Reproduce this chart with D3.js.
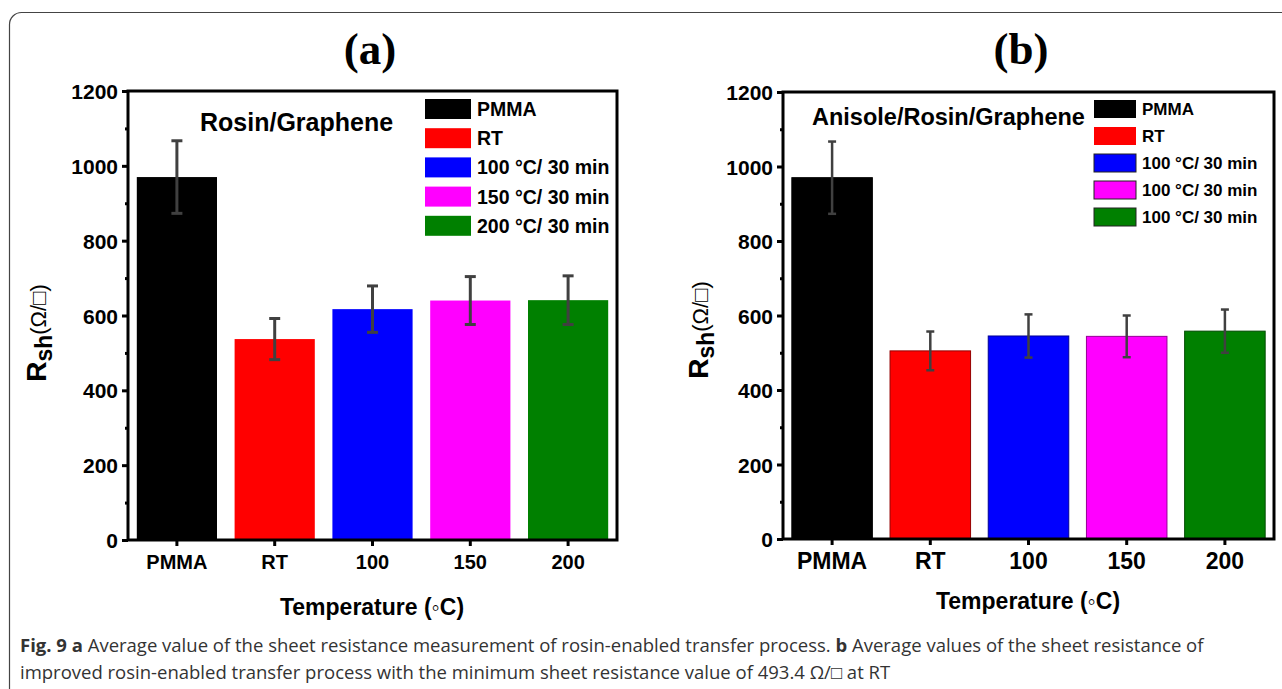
<!DOCTYPE html>
<html>
<head>
<meta charset="utf-8">
<script src="https://cdnjs.cloudflare.com/ajax/libs/d3/7.8.5/d3.min.js"></script>
<style>
  body { margin: 0; background: #fff; }
  svg text { font-family: "Liberation Sans", Arial, sans-serif; }
</style>
</head>
<body>
<div id="chart"></div>
<script>
// categories on the x axis
var categories = ['PMMA', 'RT', '100', '150', '200'];
var barColors = ['#000000', '#ff0000', '#0000ff', '#ff00ff', '#008000'];

// panel (a): Rosin/Graphene
var valuesA = [970, 537, 617, 640, 641];
var errorsA = [97, 55, 62, 64, 65];
var legendA = ['PMMA', 'RT', '100 \u00b0C/ 30 min', '150 \u00b0C/ 30 min', '200 \u00b0C/ 30 min'];

// panel (b): Anisole/Rosin/Graphene
var valuesB = [970, 505, 545, 544, 558];
var errorsB = [97, 52, 58, 56, 58];
var legendB = ['PMMA', 'RT', '100 \u00b0C/ 30 min', '100 \u00b0C/ 30 min', '100 \u00b0C/ 30 min'];

var yTicks = [0, 200, 400, 600, 800, 1000, 1200];

var svg = d3.select('#chart').append('svg')
  .attr('width', 1282)
  .attr('height', 689);

// outer figure frame (cut on right and bottom)
svg.append('rect')
  .attr('x', 9.5).attr('y', 12.5)
  .attr('width', 1320).attr('height', 700)
  .attr('rx', 12)
  .attr('fill', 'none')
  .attr('stroke', '#444')
  .attr('stroke-width', 1.2);

function drawPanel(cfg) {
  var x = d3.scaleBand()
    .domain(categories)
    .range([cfg.left, cfg.right])
    .paddingInner(0.18)
    .paddingOuter(0.09);
  var y = d3.scaleLinear()
    .domain([0, 1200])
    .range([cfg.bottom, cfg.top]);

  var g = svg.append('g');

  // panel title
  g.append('text')
    .attr('x', cfg.titleX).attr('y', 64)
    .attr('text-anchor', 'middle')
    .style('font-family', '"Liberation Serif", "Times New Roman", serif')
    .style('font-weight', 'bold')
    .style('font-size', '45px')
    .text(cfg.title);

  // bars
  g.selectAll('rect.bar')
    .data(cfg.values)
    .enter().append('rect')
    .attr('class', 'bar')
    .attr('x', (d, i) => x(categories[i]))
    .attr('y', d => y(d))
    .attr('width', x.bandwidth())
    .attr('height', d => y(0) - y(d))
    .attr('fill', (d, i) => barColors[i])
    .attr('stroke', (d, i) => cfg.outline ? d3.color(barColors[i]).darker(1.5) : 'none')
    .attr('stroke-width', 1);

  // error bars
  var eb = g.selectAll('g.err')
    .data(cfg.values)
    .enter().append('g')
    .attr('class', 'err')
    .attr('stroke', '#404040')
    .attr('stroke-width', cfg.errW);
  eb.append('line')
    .attr('x1', (d, i) => x(categories[i]) + x.bandwidth() / 2)
    .attr('x2', (d, i) => x(categories[i]) + x.bandwidth() / 2)
    .attr('y1', (d, i) => y(d + cfg.errors[i]))
    .attr('y2', (d, i) => y(d - cfg.errors[i]));
  [1, -1].forEach(function(s) {
    eb.append('line')
      .attr('x1', (d, i) => x(categories[i]) + x.bandwidth() / 2 - cfg.cap)
      .attr('x2', (d, i) => x(categories[i]) + x.bandwidth() / 2 + cfg.cap)
      .attr('y1', (d, i) => y(d + s * cfg.errors[i]))
      .attr('y2', (d, i) => y(d + s * cfg.errors[i]));
  });

  // frame box
  g.append('rect')
    .attr('x', cfg.left).attr('y', cfg.top)
    .attr('width', cfg.right - cfg.left)
    .attr('height', cfg.bottom - cfg.top)
    .attr('fill', 'none')
    .attr('stroke', '#000')
    .attr('stroke-width', 3);

  // y axis
  var yAxis = g.append('g')
    .attr('transform', 'translate(' + cfg.left + ',0)')
    .call(d3.axisLeft(y).tickValues(yTicks).tickSize(6).tickPadding(4).tickFormat(d3.format('d')));
  yAxis.select('.domain').remove();
  yAxis.selectAll('line').attr('stroke-width', 3);
  yAxis.selectAll('text')
    .style('font-size', cfg.yFont + 'px')
    .style('font-weight', 'bold')
    .attr('dy', '0.36em')
    .attr('fill', '#000');
  // minor ticks
  g.append('g')
    .attr('transform', 'translate(' + cfg.left + ',0)')
    .call(d3.axisLeft(y).tickValues(d3.range(100, 1200, 200)).tickSize(3).tickFormat(''))
    .call(a => a.select('.domain').remove())
    .selectAll('line').attr('stroke-width', 3);

  // x axis
  var xAxis = g.append('g')
    .attr('transform', 'translate(0,' + cfg.bottom + ')')
    .call(d3.axisBottom(x).tickSize(6).tickPadding(cfg.xPad));
  xAxis.select('.domain').remove();
  xAxis.selectAll('line').attr('stroke-width', 3);
  xAxis.selectAll('text')
    .style('font-size', cfg.xFont + 'px')
    .style('font-weight', 'bold')
    .attr('fill', '#000');

  // x axis title
  g.append('text')
    .attr('x', cfg.xTitleX).attr('y', cfg.xTitleY)
    .attr('text-anchor', 'middle')
    .style('font-weight', 'bold')
    .style('font-size', cfg.xTitleFont + 'px')
    .text('Temperature (\u25e6C)');

  // y axis title
  var yt = g.append('text')
    .attr('transform', 'translate(' + cfg.yTitleX + ',' + cfg.yTitleY + ') rotate(-90)')
    .attr('text-anchor', 'middle');
  yt.append('tspan').style('font-weight', 'bold').style('font-size', '28px').text('R');
  yt.append('tspan').style('font-weight', 'bold').style('font-size', '23px').attr('dy', 6).text('sh');
  yt.append('tspan').style('font-size', '22px').attr('dy', -6).text('(\u03a9/\u25a1)');

  // inner label
  g.append('text')
    .attr('x', cfg.labelX).attr('y', cfg.labelY)
    .style('font-weight', 'bold')
    .style('font-size', cfg.labelFont + 'px')
    .text(cfg.label);

  // legend
  var lg = g.selectAll('g.leg')
    .data(cfg.legend)
    .enter().append('g')
    .attr('class', 'leg')
    .attr('transform', (d, i) => 'translate(' + cfg.legX + ',' + (cfg.legY + i * cfg.legStep) + ')');
  lg.append('rect')
    .attr('width', cfg.swW).attr('height', cfg.swH)
    .attr('fill', (d, i) => barColors[i])
    .attr('stroke', (d, i) => cfg.outline && i > 1 ? '#222' : 'none')
    .attr('stroke-width', 1);
  lg.append('text')
    .attr('x', cfg.swW + 6)
    .attr('y', cfg.swH / 2)
    .attr('dy', '0.36em')
    .style('font-weight', 'bold')
    .style('font-size', cfg.legFont + 'px')
    .text(d => d);
}

drawPanel({
  title: '(a)', titleX: 370,
  left: 128, right: 617, top: 91, bottom: 540,
  values: valuesA, errors: errorsA, legend: legendA,
  outline: false, errW: 3, cap: 5.5,
  yFont: 21, xFont: 20, xPad: 9,
  xTitleX: 372, xTitleY: 615, xTitleFont: 23,
  yTitleX: 46, yTitleY: 333,
  label: 'Rosin/Graphene', labelX: 200, labelY: 131, labelFont: 25,
  legX: 425, legY: 99, legStep: 29.2, swW: 46, swH: 20, legFont: 19.5
});

drawPanel({
  title: '(b)', titleX: 1021,
  left: 783, right: 1274, top: 92, bottom: 539,
  values: valuesB, errors: errorsB, legend: legendB,
  outline: true, errW: 2.5, cap: 4,
  yFont: 21, xFont: 23, xPad: 8,
  xTitleX: 1028, xTitleY: 609, xTitleFont: 23,
  yTitleX: 708, yTitleY: 330,
  label: 'Anisole/Rosin/Graphene', labelX: 812, labelY: 125, labelFont: 23.5,
  legX: 1094, legY: 100, legStep: 27, swW: 42, swH: 18, legFont: 17
});

// caption
var cap = svg.append('text')
  .attr('x', 20).attr('y', 652)
  .style('font-family', '"Open Sans", "Noto Sans", sans-serif')
  .style('font-size', '18.5px')
  .attr('fill', '#333');
cap.append('tspan').style('font-weight', 'bold').text('Fig. 9 a');
cap.append('tspan').text(' Average value of the sheet resistance measurement of rosin-enabled transfer process. ');
cap.append('tspan').style('font-weight', 'bold').text('b');
cap.append('tspan').text(' Average values of the sheet resistance of');
svg.append('text')
  .attr('x', 20).attr('y', 679)
  .style('font-family', '"Open Sans", "Noto Sans", sans-serif')
  .style('font-size', '18.5px')
  .attr('fill', '#333')
  .text('improved rosin-enabled transfer process with the minimum sheet resistance value of 493.4 \u03a9/\u25a1 at RT');
</script>
</body>
</html>
